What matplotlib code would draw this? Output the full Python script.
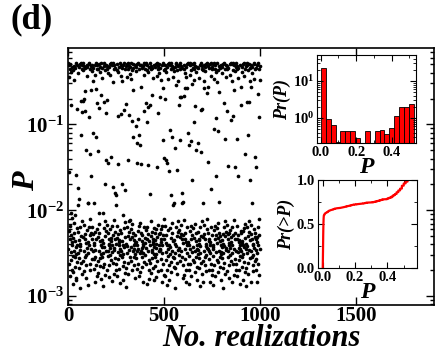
import numpy as np
import matplotlib
matplotlib.use('Agg')
import matplotlib.pyplot as plt
from matplotlib.ticker import MultipleLocator, LogLocator, NullFormatter

plt.rcParams['font.family'] = ['Liberation Serif', 'DejaVu Serif']
plt.rcParams['font.weight'] = 'bold'
plt.rcParams['mathtext.fontset'] = 'custom'
plt.rcParams['mathtext.rm'] = 'Liberation Serif:bold'
plt.rcParams['mathtext.bf'] = 'Liberation Serif:bold'
plt.rcParams['mathtext.it'] = 'Liberation Serif:italic:bold'

# log10(P) * 100 for each realization (25 realizations per row)
log_p_hundredths = [
    -29, -245, -224, -45, -31, -263, -156, -233, -36, -277, -218, -30, -78, -249, -229, -203, -39, -258, -237, -33, -269, -209, -241, -286, -253,
    -232, -37, -272, -215, -32, -48, -247, -227, -205, -34, -255, -236, -266, -159, -243, -281, -251, -279, -28, -240, -221, -82, -31, -260, -194,
    -250, -225, -174, -40, -256, -235, -33, -267, -187, -239, -290, -242, -30, -246, -220, -73, -29, -261, -112, -230, -35, -274, -212, -31, -86,
    -28, -259, -73, -231, -37, -271, -217, -32, -71, -248, -228, -84, -34, -254, -234, -61, -264, -130, -238, -279, -252, -31, -244, -223, -44,
    -33, -191, -250, -192, -287, -237, -30, -241, -219, -92, -29, -262, -135, -229, -36, -270, -210, -32, -60, -245, -226, -160, -38, -257, -233,
    -219, -31, -50, -248, -228, -110, -34, -257, -238, -191, -268, -240, -43, -284, -254, -31, -246, -225, -59, -28, -264, -115, -234, -35, -276,
    -222, -75, -31, -259, -131, -231, -36, -273, -216, -30, -81, -248, -226, -203, -39, -256, -236, -33, -265, -66, -241, -280, -251, -29, -243,
    -34, -255, -235, -46, -266, -203, -238, -288, -250, -32, -243, -221, -74, -28, -262, -169, -230, -37, -275, -213, -31, -87, -247, -224, -142,
    -35, -270, -217, -32, -72, -247, -227, -145, -40, -253, -234, -33, -264, -241, -239, -278, -252, -30, -244, -222, -43, -29, -258, -138, -232,
    -236, -282, -249, -31, -241, -218, -51, -28, -261, -173, -229, -36, -274, -211, -31, -246, -244, -225, -180, -34, -256, -233, -239, -269, -182,
    -262, -194, -232, -37, -276, -218, -30, -90, -249, -228, -146, -39, -257, -237, -33, -268, -235, -240, -285, -252, -29, -245, -223, -44, -31,
    -88, -247, -226, -170, -34, -255, -236, -49, -265, -206, -240, -281, -251, -31, -243, -221, -83, -28, -260, -176, -231, -35, -273, -214, -32,
    -267, -76, -239, -289, -250, -30, -242, -219, -45, -29, -261, -141, -230, -36, -274, -212, -32, -89, -246, -225, -211, -41, -255, -234, -33,
    -243, -222, -47, -28, -259, -96, -231, -37, -270, -216, -30, -60, -248, -227, -115, -34, -254, -235, -245, -264, -240, -238, -279, -251, -31,
    -229, -102, -38, -256, -237, -33, -268, -122, -241, -145, -248, -30, -245, -224, -94, -29, -262, -112, -233, -35, -277, -218, -31, -124, -250,
    -272, -215, -31, -57, -247, -226, -146, -34, -255, -236, -244, -266, -229, -239, -283, -250, -32, -242, -220, -43, -28, -260, -84, -232, -36,
    -238, -252, -30, -244, -223, -75, -29, -263, -97, -233, -37, -286, -219, -31, -80, -248, -228, -147, -39, -258, -236, -33, -269, -280, -240,
    -77, -28, -261, -181, -230, -35, -273, -213, -32, -66, -246, -225, -249, -34, -256, -234, -46, -267, -237, -239, -281, -251, -31, -243, -221,
    -254, -235, -33, -265, -226, -239, -278, -251, -30, -244, -222, -44, -29, -259, -150, -231, -36, -271, -217, -32, -87, -247, -228, -241, -40,
    -30, -68, -245, -226, -246, -34, -257, -233, -48, -270, -222, -237, -284, -250, -31, -241, -218, -58, -28, -262, -118, -229, -37, -275, -210,
    -139, -233, -35, -277, -218, -31, -71, -249, -229, -141, -39, -258, -238, -33, -269, -145, -241, -287, -253, -30, -245, -223, -47, -29, -264,
    -154, -240, -281, -251, -31, -243, -221, -106, -28, -260, -182, -232, -36, -272, -215, -32, -115, -247, -227, -194, -34, -255, -236, -45, -266,
    -192, -38, -256, -235, -33, -267, -128, -239, -290, -250, -30, -242, -220, -54, -29, -261, -153, -230, -37, -274, -212, -32, -49, -246, -225,
    -252, -31, -244, -223, -78, -28, -259, -118, -231, -35, -68, -217, -32, -68, -248, -228, -180, -34, -254, -234, -191, -264, -190, -238, -279,
    -229, -36, -275, -211, -31, -67, -245, -226, -58, -40, -257, -233, -33, -270, -45, -237, -283, -250, -30, -241, -219, -58, -29, -262, -110,
    -237, -239, -269, -124, -241, -286, -253, -31, -245, -224, -43, -28, -263, -119, -233, -37, -277, -218, -30, -53, -249, -229, -165, -34, -258,
    -30, -243, -221, -48, -29, -260, -97, -232, -35, -272, -216, -32, -79, -247, -227, -130, -39, -255, -236, -33, -266, -245, -240, -281, -251,
    -246, -225, -122, -34, -256, -235, -46, -267, -233, -239, -288, -250, -31, -242, -220, -83, -28, -261, -132, -230, -36, -274, -213, -32, -82,
    -259, -191, -231, -37, -284, -217, -31, -58, -248, -228, -50, -38, -254, -234, -33, -264, -271, -239, -252, -242, -30, -244, -222, -63, -29,
    -210, -32, -57, -245, -226, -144, -34, -257, -233, -247, -270, -236, -237, -283, -250, -30, -241, -219, -44, -28, -262, -175, -229, -35, -275,
    -33, -269, -243, -241, -287, -253, -30, -245, -223, -47, -29, -264, -105, -233, -36, -277, -218, -31, -93, -249, -229, -160, -39, -258, -238,
    -221, -51, -28, -260, -108, -232, -37, -272, -215, -32, -62, -247, -227, -190, -34, -255, -236, -230, -266, -249, -240, -281, -251, -31, -243,
    -40, -256, -235, -33, -267, -228, -239, -290, -250, -30, -242, -220, -75, -29, -261, -117, -230, -35, -274, -212, -31, -45, -246, -225, -244,
    -36, -271, -217, -32, -85, -248, -228, -148, -34, -254, -234, -241, -264, -226, -238, -279, -252, -30, -244, -223, -43, -28, -259, -95, -231,
    -237, -283, -250, -30, -241, -219, -49, -29, -262, -90, -229, -37, -275, -211, -31, -60, -245, -226, -150, -38, -257, -233, -33, -270, -247,
    -28, -263, -117, -233, -35, -277, -218, -32, -46, -249, -229, -160, -34, -258, -237, -235, -269, -244, -241, -286, -253, -31, -245, -224, -56,
    -77, -247, -227, -238, -39, -255, -236, -33, -266, -224, -240, -281, -251, -30, -243, -221, -44, -29, -260, -135, -232, -36, -272, -216, -32,
    -267, -245, -239, -288, -250, -31, -242, -220, -74, -28, -261, -112, -230, -37, -274, -213, -30, -74, -246, -225, -165, -34, -256, -235, -50,
    -283, -217, -31, -56, -248, -228, -191, -40, -254, -234, -33, -264, -241, -239, -271, -252, -30, -244, -222, -47, -29, -259, -138, -231, -35,
    -226, -150, -34, -257, -233, -246, -270, -231, -237, -284, -250, -31, -241, -219, -65, -28, -262, -91, -229, -36, -275, -210, -32, -48, -245,
]

p = 10 ** (np.array(log_p_hundredths) / 100.0)
realization = np.arange(1, len(p) + 1)

x_ticks = [0, 500, 1000, 1500]
y_ticks = [1e-3, 1e-2, 1e-1]
y_tick_labels = [r'$\mathbf{10^{-3}}$', r'$\mathbf{10^{-2}}$', r'$\mathbf{10^{-1}}$']

fig = plt.figure(figsize=(4.36, 3.55), dpi=100)

# main scatter
ax = fig.add_axes([0.156, 0.141, 0.839, 0.724])
ax.scatter(realization, p, s=7, color='black', linewidths=0)
ax.set_yscale('log')
ax.set_xlim(0, 1906)
ax.set_ylim(7.9e-4, 0.776)
ax.set_xticks(x_ticks)
ax.set_xticklabels([str(t) for t in x_ticks], fontsize=15, fontweight='bold')
ax.set_yticks(y_ticks)
ax.set_yticklabels(y_tick_labels, fontsize=15)
ax.yaxis.set_minor_locator(LogLocator(base=10, subs=np.arange(2, 10)))
ax.yaxis.set_minor_formatter(NullFormatter())
ax.tick_params(which='both', direction='in', top=True, right=True, width=1)
ax.tick_params(which='major', length=6, pad=3)
ax.tick_params(axis='x', which='major', pad=1)
ax.tick_params(which='minor', length=3)
for s in ax.spines.values():
    s.set_linewidth(1.2)
ax.set_xlabel('No. realizations', fontsize=22, fontstyle='italic', fontweight='bold')
ax.xaxis.set_label_coords(0.53, -0.075)
ax.set_ylabel('P', fontsize=23, fontstyle='italic', fontweight='bold')
ax.yaxis.set_label_coords(-0.075, 0.48)

fig.text(0.025, 0.99, '(d)', fontsize=25, fontweight='bold', va='top')

# inset: histogram
ax_h = fig.add_axes([0.727, 0.597, 0.227, 0.248])
ax_h.hist(p, bins=19, density=True, color='red', edgecolor='black', linewidth=0.6)
ax_h.set_yscale('log')
ax_h.set_xlim(-0.021, 0.537)
ax_h.set_ylim(0.21, 50)
ax_h.set_xticks([0.0, 0.2, 0.4])
ax_h.set_xticklabels(['0.0', '0.2', '0.4'], fontsize=10.5, fontweight='bold')
ax_h.xaxis.set_minor_locator(MultipleLocator(0.1))
ax_h.set_yticks([1, 10])
ax_h.set_yticklabels([r'$\mathbf{10^{0}}$', r'$\mathbf{10^{1}}$'], fontsize=10.5)
ax_h.yaxis.set_minor_locator(LogLocator(base=10, subs=np.arange(2, 10)))
ax_h.yaxis.set_minor_formatter(NullFormatter())
ax_h.tick_params(which='both', direction='in', top=True, right=True, pad=2)
ax_h.tick_params(which='major', length=4)
ax_h.tick_params(which='minor', length=2)
ax_h.set_xlabel('P', fontsize=17, fontstyle='italic', fontweight='bold', labelpad=-1)
ax_h.set_ylabel('Pr(P)', fontsize=13, fontstyle='italic', fontweight='bold', labelpad=1)

# inset: cumulative distribution
ax_c = fig.add_axes([0.729, 0.245, 0.227, 0.248])
p_sorted = np.sort(p)
cum = np.arange(1, len(p_sorted) + 1) / len(p_sorted)
ax_c.plot(p_sorted, cum, color='red', linewidth=1.6)
ax_c.set_xlim(-0.029, 0.582)
ax_c.set_ylim(0, 1)
ax_c.set_xticks([0.0, 0.2, 0.4])
ax_c.set_xticklabels(['0.0', '0.2', '0.4'], fontsize=10.5, fontweight='bold')
ax_c.xaxis.set_minor_locator(MultipleLocator(0.1))
ax_c.set_yticks([0.0, 0.5, 1.0])
ax_c.set_yticklabels(['0.0', '0.5', '1.0'], fontsize=10.5, fontweight='bold')
ax_c.yaxis.set_minor_locator(MultipleLocator(0.25))
ax_c.tick_params(which='both', direction='in', top=True, right=True, pad=2)
ax_c.tick_params(which='major', length=4)
ax_c.tick_params(which='minor', length=2)
ax_c.set_xlabel('P', fontsize=17, fontstyle='italic', fontweight='bold', labelpad=-1)
ax_c.set_ylabel('Pr(>P)', fontsize=13, fontstyle='italic', fontweight='bold', labelpad=1)

fig.savefig('out.png', dpi=100)
